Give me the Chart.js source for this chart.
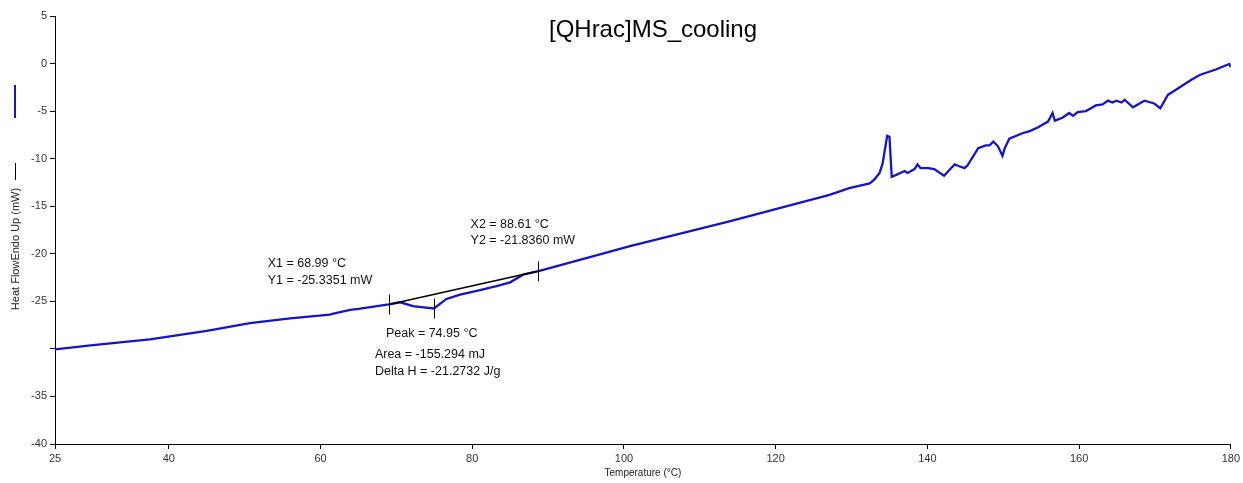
<!DOCTYPE html>
<html>
<head>
<meta charset="utf-8">
<script src="https://cdn.jsdelivr.net/npm/chart.js@4.4.1/dist/chart.umd.min.js"></script>
<style>
  html, body { margin: 0; padding: 0; background: #fff; }
  #wrap { width: 1243px; height: 483px; }
</style>
</head>
<body>
<div id="wrap"><canvas id="dsc"></canvas></div>
<script>
// DSC cooling trace
const temperature = [
  25.0, 30.0, 37.5, 45.0, 50.7, 56.0, 61.2, 61.7, 63.9, 65.0, 69.0, 70.5, 72.2, 73.3, 74.95,
  76.6, 78.4, 80.6, 83.2, 85.0, 86.7, 88.6, 90.2, 100.8, 113.9, 127.1, 129.7, 132.4, 133.0,
  133.7, 134.1, 134.7, 135.0, 135.3, 135.9, 137.0, 137.4, 138.3, 138.7, 139.1, 140.1, 140.9,
  142.2, 142.9, 143.6, 144.2, 144.9, 145.3, 146.7, 147.7, 148.2, 148.7, 149.3, 149.9, 150.2,
  150.8, 152.6, 153.5, 154.6, 155.9, 156.5, 156.8, 157.8, 158.7, 159.2, 159.8, 160.9, 162.2,
  163.1, 163.8, 164.4, 164.9, 165.6, 166.0, 167.1, 168.6, 169.9, 170.7, 171.7, 172.3, 174.8,
  175.9, 178.1, 179.8, 180.0
];
const heatFlow = [
  -30.05, -29.6, -29.0, -28.1, -27.3, -26.8, -26.4, -26.3, -25.9, -25.8, -25.33, -25.1, -25.5, -25.6, -25.75,
  -24.75, -24.3, -23.9, -23.4, -23.0, -22.2, -21.84, -21.5, -19.2, -16.6, -13.8, -13.1, -12.6, -12.2,
  -11.5, -10.5, -7.6, -7.7, -11.9, -11.7, -11.3, -11.5, -11.1, -10.6, -11.0, -11.0, -11.1,
  -11.8, -11.2, -10.6, -10.8, -11.0, -10.7, -8.9, -8.6, -8.6, -8.2, -8.7, -9.7, -8.9,
  -7.9, -7.3, -7.1, -6.7, -6.1, -5.2, -6.0, -5.7, -5.2, -5.5, -5.1, -5.0, -4.4,
  -4.3, -3.9, -4.1, -3.9, -4.1, -3.8, -4.6, -3.9, -4.2, -4.7, -3.3, -3.0, -1.7,
  -1.2, -0.6, -0.05, -0.4
];

const xTicks = [25, 40, 60, 80, 100, 120, 140, 160, 180];
const yTicks = [-40, -35, -30, -25, -20, -15, -10, -5, 0, 5];

// peak analysis results
const onset = {x: 68.99, y: -25.3351};
const endset = {x: 88.61, y: -21.8360};
const peak = {x: 74.95, y: -25.75};
const peakArea = '-155.294 mJ';
const deltaH = '-21.2732 J/g';

const FONT = '"Liberation Sans", Arial, sans-serif';

const overlay = {
  id: 'overlay',
  afterDatasetsDraw(chart) {
    const {ctx, scales: {x, y}} = chart;
    const px = v => x.getPixelForValue(v);
    const py = v => y.getPixelForValue(v);
    ctx.save();

    // baseline between onset and endset
    ctx.strokeStyle = '#000';
    ctx.lineWidth = 1.5;
    ctx.beginPath();
    ctx.moveTo(px(onset.x), py(onset.y));
    ctx.lineTo(px(endset.x), py(endset.y));
    ctx.stroke();

    // little vertical markers
    ctx.lineWidth = 1;
    [onset, peak, endset].forEach(p => {
      const cx = Math.round(px(p.x)) + 0.5, cy = py(p.y);
      ctx.beginPath();
      ctx.moveTo(cx, cy - 10);
      ctx.lineTo(cx, cy + 10);
      ctx.stroke();
    });

    ctx.fillStyle = '#111';
    ctx.font = '12.5px ' + FONT;
    ctx.textAlign = 'left';
    ctx.textBaseline = 'alphabetic';
    let ax = px(onset.x), ay = py(onset.y);
    ctx.fillText('X1 = ' + onset.x.toFixed(2) + ' °C', ax - 121, ay - 38);
    ctx.fillText('Y1 = ' + onset.y.toFixed(4) + ' mW', ax - 121, ay - 21);
    ax = px(endset.x); ay = py(endset.y);
    ctx.fillText('X2 = ' + endset.x.toFixed(2) + ' °C', ax - 67, ay - 43);
    ctx.fillText('Y2 = ' + endset.y.toFixed(4) + ' mW', ax - 67, ay - 27);
    ax = px(peak.x); ay = py(peak.y);
    ctx.fillText('Peak = ' + peak.x.toFixed(2) + ' °C', ax - 48, ay + 29);
    ctx.fillText('Area = ' + peakArea, ax - 59, ay + 50);
    ctx.fillText('Delta H = ' + deltaH, ax - 59, ay + 67);

    // title
    ctx.font = '24px ' + FONT;
    ctx.textAlign = 'center';
    ctx.fillStyle = '#000';
    ctx.fillText('[QHrac]MS_cooling', 653, 37);

    // y axis title with its legend swatches
    ctx.save();
    ctx.translate(19, 249);
    ctx.rotate(-Math.PI / 2);
    ctx.font = '11px ' + FONT;
    ctx.fillStyle = '#222';
    ctx.fillText('Heat FlowEndo Up (mW)', 0, 0);
    ctx.restore();
    ctx.strokeStyle = '#000';
    ctx.lineWidth = 1;
    ctx.beginPath();
    ctx.moveTo(15.5, 163);
    ctx.lineTo(15.5, 180);
    ctx.stroke();
    ctx.strokeStyle = '#1414c8';
    ctx.lineWidth = 2;
    ctx.beginPath();
    ctx.moveTo(15, 85);
    ctx.lineTo(15, 118);
    ctx.stroke();

    ctx.restore();
  }
};

new Chart(document.getElementById('dsc'), {
  type: 'scatter',
  data: {
    datasets: [{
      label: 'Heat Flow',
      data: temperature.map((t, i) => ({x: t, y: heatFlow[i]})),
      borderColor: '#1414c8',
      borderWidth: 2.3,
      showLine: true,
      fill: false,
      tension: 0,
      pointRadius: 0
    }]
  },
  options: {
    responsive: true,
    maintainAspectRatio: false,
    animation: false,
    layout: {padding: {top: 16, right: 11, left: 0, bottom: 0}},
    plugins: {legend: {display: false}, tooltip: {enabled: false}},
    scales: {
      x: {
        type: 'linear',
        min: 25,
        max: 180,
        afterBuildTicks: s => { s.ticks = xTicks.map(v => ({value: v})); },
        afterFit: s => { s.height = 39; },
        border: {color: '#000', width: 1},
        grid: {drawOnChartArea: false, drawTicks: true, tickLength: 5, color: '#000'},
        ticks: {color: '#333', font: {family: FONT, size: 11}, padding: 3, maxRotation: 0},
        title: {display: true, text: 'Temperature (°C)', color: '#222',
                font: {family: FONT, size: 10}, padding: {top: 0, bottom: 4}}
      },
      y: {
        type: 'linear',
        min: -40,
        max: 5,
        afterBuildTicks: s => { s.ticks = yTicks.map(v => ({value: v})); },
        afterFit: s => { s.width = 55; },
        border: {color: '#000', width: 1},
        grid: {drawOnChartArea: false, drawTicks: true, tickLength: 5, color: '#000'},
        ticks: {color: '#333', font: {family: FONT, size: 11}, padding: 3,
                callback: v => (v === -30 ? '' : v)}
      }
    }
  },
  plugins: [overlay]
});
</script>
</body>
</html>
